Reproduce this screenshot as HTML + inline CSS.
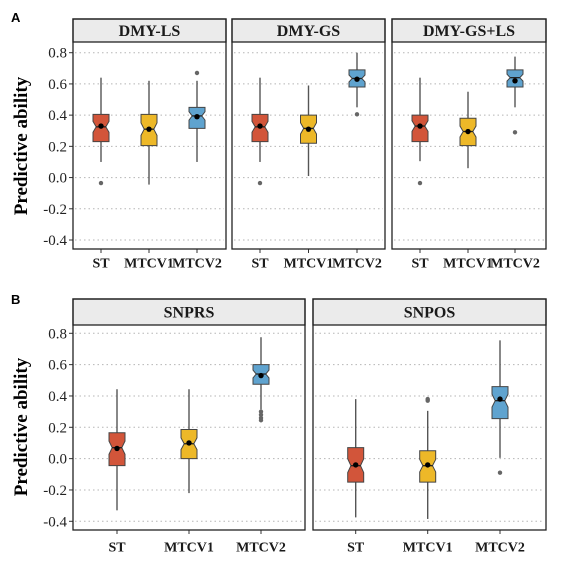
<!DOCTYPE html>
<html><head><meta charset="utf-8"><style>
html,body{margin:0;padding:0;background:#fff;}
svg{display:block;}
text{font-family:"Liberation Serif",serif;}
</style></head><body>
<svg id="chart" width="562" height="568" viewBox="0 0 562 568" xmlns="http://www.w3.org/2000/svg">
<text x="11" y="22" font-weight="bold" font-size="13" style="font-family:'Liberation Sans',sans-serif">A</text>
<text x="11" y="304" font-weight="bold" font-size="13" style="font-family:'Liberation Sans',sans-serif">B</text>
<text transform="translate(27,146) rotate(-90)" text-anchor="middle" font-weight="bold" font-size="19">Predictive ability</text>
<text transform="translate(27,427) rotate(-90)" text-anchor="middle" font-weight="bold" font-size="19">Predictive ability</text>
</svg>
<script>
const categories = ["ST","MTCV1","MTCV2"];
const yTicks = [0.8,0.6,0.4,0.2,0.0,-0.2,-0.4];
const yTickLabels = ["0.8","0.6","0.4","0.2","0.0","-0.2","-0.4"];
const facetTitles = ["DMY-LS","DMY-GS","DMY-GS+LS","SNPRS","SNPOS"];
// each: [lowWhisker, Q1, median, Q3, highWhisker, mean]
const dmyLS = [[0.10,0.23,0.325,0.405,0.64,0.33],[-0.045,0.205,0.31,0.405,0.62,0.31],[0.10,0.315,0.395,0.45,0.62,0.39]];
const dmyGS = [[0.10,0.23,0.325,0.405,0.64,0.33],[0.01,0.22,0.315,0.40,0.59,0.31],[0.45,0.58,0.635,0.69,0.80,0.63]];
const dmyGSLS = [[0.105,0.23,0.33,0.40,0.64,0.33],[0.06,0.205,0.295,0.38,0.55,0.295],[0.45,0.58,0.64,0.69,0.775,0.62]];
const snprs = [[-0.33,-0.045,0.07,0.165,0.443,0.065],[-0.22,0.0,0.095,0.186,0.443,0.10],[0.315,0.475,0.54,0.60,0.775,0.53]];
const snpos = [[-0.375,-0.15,-0.045,0.07,0.38,-0.04],[-0.385,-0.15,-0.045,0.05,0.305,-0.04],[0.005,0.255,0.37,0.46,0.755,0.38]];
const outDmyLS = [[-0.035],[],[0.67]];
const outDmyGS = [[-0.035],[],[0.405]];
const outDmyGSLS = [[-0.035],[],[0.29]];
const outSnprs = [[],[],[0.30,0.28,0.26,0.245]];
const outSnpos = [[],[0.37,0.38],[-0.09]];

const colors=["#D2553A","#EDB828","#5FA3CF"];
const svg=document.getElementById('chart');
const NS="http://www.w3.org/2000/svg";
function mk(tag,attrs,parent){const e=document.createElementNS(NS,tag);for(const k in attrs)e.setAttribute(k,attrs[k]);(parent||svg).appendChild(e);return e;}

const panels=[
 {title:facetTitles[0],data:dmyLS,out:outDmyLS,x0:73,x1:226,top:19,stripB:42,bottom:249,y08:52.7,ym04:240,centers:[101,149,197],lab:262,bw:16},
 {title:facetTitles[1],data:dmyGS,out:outDmyGS,x0:232,x1:385,top:19,stripB:42,bottom:249,y08:52.7,ym04:240,centers:[260,308.5,357],lab:262,bw:16},
 {title:facetTitles[2],data:dmyGSLS,out:outDmyGSLS,x0:392,x1:546,top:19,stripB:42,bottom:249,y08:52.7,ym04:240,centers:[420,468,515],lab:262,bw:16},
 {title:facetTitles[3],data:snprs,out:outSnprs,x0:73,x1:305,top:299,stripB:325,bottom:530,y08:333.3,ym04:521.3,centers:[117,189,261],lab:546,bw:16},
 {title:facetTitles[4],data:snpos,out:outSnpos,x0:313,x1:546,top:299,stripB:325,bottom:530,y08:333.3,ym04:521.3,centers:[355.7,427.7,500],lab:546,bw:16}
];

panels.forEach((p,pi)=>{
 const y=v=>p.y08+(0.8-v)*(p.ym04-p.y08)/1.2;
 const g=mk('g',{});
 
 
 const st=mk('rect',{x:p.x0,y:p.top,width:p.x1-p.x0,height:p.stripB-p.top,fill:'#ebebeb',stroke:'#222','stroke-width':1.3},g);
 
 
 const tt=mk('text',{x:(p.x0+p.x1)/2,y:(p.top+p.stripB)/2+5.5,'text-anchor':'middle','font-weight':'bold','font-size':16,fill:'#1a1a1a'},g);
 tt.textContent=p.title;
 
 
 yTicks.forEach((t,i)=>{
  const gl=mk('line',{x1:p.x0+2,x2:p.x1-2,y1:y(t),y2:y(t),stroke:'#b5b5b5','stroke-width':1,'stroke-dasharray':'1.5,3'},g);
  
  
  if(pi===0||pi===3){
   mk('line',{x1:p.x0-4,x2:p.x0,y1:y(t),y2:y(t),stroke:'#333'},g);
   const tl=mk('text',{x:p.x0-6,y:y(t)+5,'text-anchor':'end','font-size':15,fill:'#222'},g);
   tl.textContent=yTickLabels[i];
   
   
  }
 });
 p.data.forEach((d,ci)=>{
  const cx=p.centers[ci],hw=p.bw/2,[lo,q1,md,q3,hi,mn]=d;
  const bg=mk('g',{},g);
  
  
  mk('line',{x1:cx,x2:cx,y1:y(hi),y2:y(lo),stroke:'#555','stroke-width':1.4},bg);
  const n=0.2*(q3-q1);
  const nt=Math.min(q3,md+n),nb=Math.max(q1,md-n),nw=hw*0.6;
  const pts=[[cx-hw,y(q3)],[cx+hw,y(q3)],[cx+hw,y(nt)],[cx+nw,y(md)],[cx+hw,y(nb)],[cx+hw,y(q1)],[cx-hw,y(q1)],[cx-hw,y(nb)],[cx-nw,y(md)],[cx-hw,y(nt)]];
  mk('polygon',{points:pts.map(a=>a.join(',')).join(' '),fill:colors[ci],stroke:'#444','stroke-width':1},bg);
  mk('line',{x1:cx-nw,x2:cx+nw,y1:y(md),y2:y(md),stroke:'#222','stroke-width':1.3},bg);
  mk('circle',{cx:cx,cy:y(mn),r:2.7,fill:'#000'},bg);
  p.out[ci].forEach(o=>{
   const oc=mk('circle',{cx:cx,cy:y(o),r:2.2,fill:'#666'},bg);
   
   
  });
  mk('line',{x1:cx,x2:cx,y1:p.bottom,y2:p.bottom+4,stroke:'#333'},g);
  const xl=mk('text',{x:cx,y:p.lab+5.5,'text-anchor':'middle','font-weight':'bold','font-size':14,fill:'#1a1a1a'},g);
  xl.textContent=categories[ci];
  
  
 });
 const fr=mk('rect',{x:p.x0,y:p.top,width:p.x1-p.x0,height:p.bottom-p.top,fill:'none',stroke:'#222','stroke-width':1.3},g);
 
 
});
</script>
</body></html>
